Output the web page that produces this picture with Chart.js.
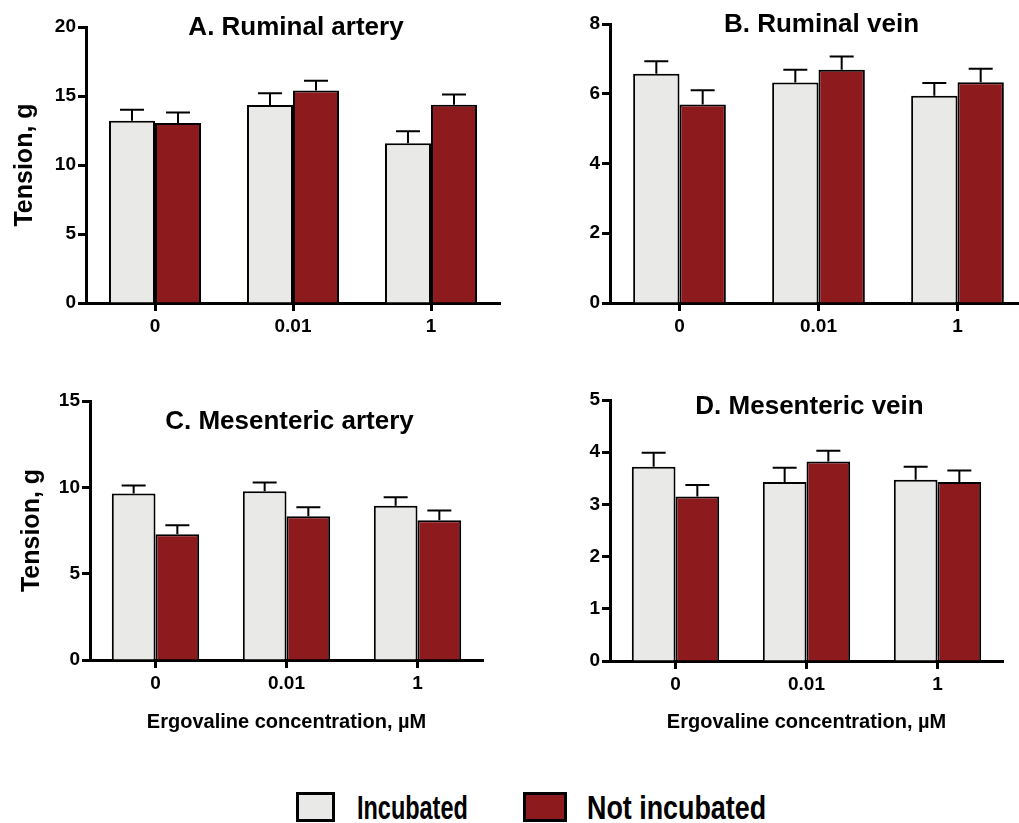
<!DOCTYPE html>
<html>
<head>
<meta charset="utf-8">
<script src="https://cdn.jsdelivr.net/npm/chart.js@4.4.1/dist/chart.umd.min.js"></script>
<style>
  body { margin: 0; background: #fff; }
  #wrap { position: relative; width: 1019px; height: 823px; overflow: hidden; font-family: "Liberation Sans", Arial, sans-serif; }
  #wrap canvas { position: absolute; }
  .key { position: absolute; top: 792px; height: 30px; box-sizing: border-box; border: 3px solid #000; }
  .lab { position: absolute; top: 787px; font-weight: bold; font-size: 34px; line-height: 40px; transform-origin: 0 50%; color: #000; white-space: nowrap; }
</style>
</head>
<body>
<div id="wrap">
  <canvas id="chartA" width="510" height="345" style="left:0;top:0"></canvas>
  <canvas id="chartB" width="530" height="345" style="left:510px;top:0"></canvas>
  <canvas id="chartC" width="510" height="390" style="left:0;top:350px"></canvas>
  <canvas id="chartD" width="510" height="390" style="left:510px;top:350px"></canvas>

  <div class="key" style="left:296px;width:39px;background:#e9e9e7"></div>
  <div class="lab" style="left:357px;transform:scaleX(0.69)">Incubated</div>
  <div class="key" style="left:523px;width:44px;background:#8d1a1c"></div>
  <div class="lab" style="left:587px;transform:scaleX(0.79)">Not incubated</div>
</div>
<script>
// ergovaline concentration, uM
const categories = ['0', '0.01', '1'];
const seriesNames = ['Incubated', 'Not incubated'];

// A. Ruminal artery
const raIncubated = [13.2, 14.35, 11.57];
const raIncubatedErr = [0.8, 0.85, 0.87];
const raNotIncubated = [13.05, 15.4, 14.37];
const raNotIncubatedErr = [0.75, 0.7, 0.73];

// B. Ruminal vein
const rvIncubated = [6.57, 6.32, 5.94];
const rvIncubatedErr = [0.36, 0.37, 0.37];
const rvNotIncubated = [5.69, 6.69, 6.33];
const rvNotIncubatedErr = [0.41, 0.38, 0.39];

// C. Mesenteric artery
const maIncubated = [9.64, 9.77, 8.93];
const maIncubatedErr = [0.46, 0.51, 0.5];
const maNotIncubated = [7.29, 8.33, 8.1];
const maNotIncubatedErr = [0.52, 0.52, 0.56];

// D. Mesenteric vein
const mvIncubated = [3.72, 3.43, 3.47];
const mvIncubatedErr = [0.27, 0.27, 0.25];
const mvNotIncubated = [3.15, 3.82, 3.43];
const mvNotIncubatedErr = [0.22, 0.21, 0.22];

const fillIncubated = '#e9e9e7';
const fillNotIncubated = '#8d1a1c';
const fontFamily = '"Liberation Sans", Arial, sans-serif';
const tickFont = { family: fontFamily, size: 19, weight: 'bold' };

// upward SEM bars with a cap
const errorBars = {
  id: 'errorBars',
  afterDatasetsDraw(chart) {
    const ctx = chart.ctx;
    const yScale = chart.scales.y;
    ctx.save();
    ctx.strokeStyle = '#000';
    ctx.lineWidth = 2;
    chart.data.datasets.forEach((ds, i) => {
      chart.getDatasetMeta(i).data.forEach((bar, j) => {
        const top = yScale.getPixelForValue(ds.data[j] + ds.errors[j]);
        ctx.beginPath();
        ctx.moveTo(bar.x, bar.y);
        ctx.lineTo(bar.x, top);
        ctx.moveTo(bar.x - 12, top);
        ctx.lineTo(bar.x + 12, top);
        ctx.stroke();
      });
    });
    ctx.restore();
  }
};

// panel heading drawn inside the plot area
const panelTitle = {
  id: 'panelTitle',
  afterDraw(chart, args, opts) {
    const { ctx, chartArea } = chart;
    ctx.save();
    ctx.font = 'bold 26px ' + fontFamily;
    ctx.fillStyle = '#000';
    ctx.textAlign = 'center';
    ctx.textBaseline = 'middle';
    ctx.fillText(opts.text, (chartArea.left + chartArea.right) / 2 + 3, chartArea.top + opts.dy);
    ctx.restore();
  }
};

function panel(id, p) {
  return new Chart(document.getElementById(id), {
    type: 'bar',
    data: {
      labels: categories,
      datasets: [
        { label: seriesNames[0], data: p.inc, errors: p.incErr, backgroundColor: fillIncubated, borderColor: '#000', borderWidth: 2 },
        { label: seriesNames[1], data: p.not, errors: p.notErr, backgroundColor: fillNotIncubated, borderColor: '#000', borderWidth: 2 }
      ]
    },
    options: {
      responsive: false,
      animation: false,
      devicePixelRatio: 1,
      layout: { padding: p.pad },
      datasets: { bar: { barPercentage: 1, categoryPercentage: 0.667 } },
      plugins: {
        legend: { display: false },
        tooltip: { enabled: false },
        panelTitle: { text: p.title, dy: p.titleDy }
      },
      scales: {
        x: {
          grid: { drawOnChartArea: false, offset: false, tickLength: 8, tickWidth: 3, tickColor: '#000' },
          border: { color: '#000', width: 3 },
          ticks: { color: '#000', font: tickFont, padding: 4 },
          title: {
            display: !!p.xTitle, text: p.xTitle, color: '#000',
            font: { family: fontFamily, size: 20, weight: 'bold' }, padding: { top: 0, bottom: 6 }
          },
          afterFit: s => { s.height = p.xH; }
        },
        y: {
          min: 0,
          max: p.max,
          grid: { drawOnChartArea: false, tickLength: 8, tickWidth: 3, tickColor: '#000' },
          border: { color: '#000', width: 3 },
          ticks: { stepSize: p.step, color: '#000', font: tickFont, padding: 2 },
          title: {
            display: !!p.yTitle, text: p.yTitle, color: '#000',
            font: { family: fontFamily, size: 25, weight: 'bold' }, padding: { top: p.yTitlePad, bottom: 0 }
          },
          afterFit: s => { s.width = p.yW; }
        }
      }
    },
    plugins: [errorBars, panelTitle]
  });
}

panel('chartA', {
  title: 'A. Ruminal artery', titleDy: 1,
  inc: raIncubated, incErr: raIncubatedErr, not: raNotIncubated, notErr: raNotIncubatedErr,
  max: 20, step: 5, yTitle: 'Tension, g', yTitlePad: 10,
  pad: { top: 27, right: 10, left: 0, bottom: 0 }, yW: 86, xH: 42
});
panel('chartB', {
  title: 'B. Ruminal vein', titleDy: 1,
  inc: rvIncubated, incErr: rvIncubatedErr, not: rvNotIncubated, notErr: rvNotIncubatedErr,
  max: 8, step: 2,
  pad: { top: 24, right: 13, left: 0, bottom: 0 }, yW: 100, xH: 42
});
panel('chartC', {
  title: 'C. Mesenteric artery', titleDy: 21,
  inc: maIncubated, incErr: maIncubatedErr, not: maNotIncubated, notErr: maNotIncubatedErr,
  max: 15, step: 5, yTitle: 'Tension, g', yTitlePad: 17, xTitle: 'Ergovaline concentration, µM',
  pad: { top: 51, right: 27, left: 0, bottom: 0 }, yW: 90, xH: 80
});
panel('chartD', {
  title: 'D. Mesenteric vein', titleDy: 7,
  inc: mvIncubated, incErr: mvIncubatedErr, not: mvNotIncubated, notErr: mvNotIncubatedErr,
  max: 5, step: 1, xTitle: 'Ergovaline concentration, µM',
  pad: { top: 50, right: 17, left: 0, bottom: 0 }, yW: 100, xH: 79
});
</script>
</body>
</html>
